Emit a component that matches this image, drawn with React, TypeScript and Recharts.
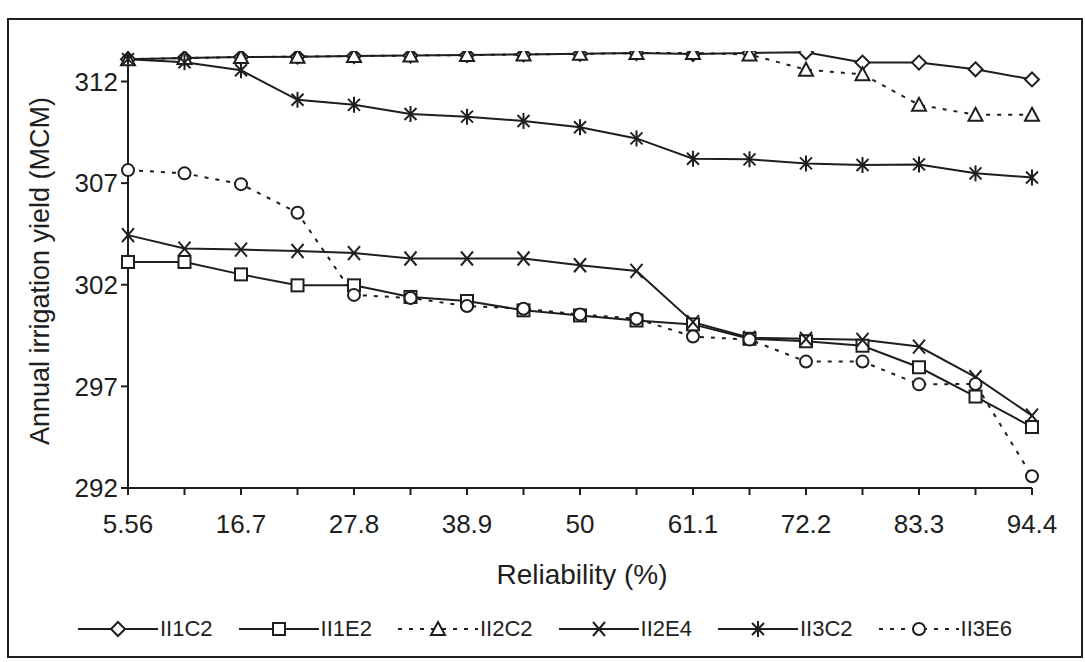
import { LineChart, Line, XAxis, YAxis } from 'recharts';

const reliability = ['5.56', '11.1', '16.7', '22.2', '27.8', '33.3', '38.9', '44.4', '50', '55.6', '61.1', '66.7', '72.2', '77.8', '83.3', '88.9', '94.4'];

const ii1c2 = [313.1, 313.15, 313.2, 313.22, 313.25, 313.28, 313.3, 313.33, 313.36, 313.4, 313.35, 313.4, 313.44, 312.93, 312.93, 312.6, 312.1];
const ii1e2 = [303.12, 303.12, 302.51, 301.97, 301.97, 301.4, 301.2, 300.74, 300.49, 300.24, 300.05, 299.34, 299.22, 299.0, 297.94, 296.5, 295.0];
const ii2c2 = [313.1, 313.15, 313.2, 313.22, 313.25, 313.28, 313.3, 313.33, 313.36, 313.4, 313.4, 313.33, 312.58, 312.35, 310.85, 310.36, 310.36];
const ii2e4 = [304.44, 303.78, 303.73, 303.66, 303.56, 303.29, 303.29, 303.29, 302.96, 302.68, 300.16, 299.39, 299.34, 299.29, 298.96, 297.45, 295.56];
const ii3c2 = [313.1, 312.95, 312.55, 311.1, 310.85, 310.4, 310.27, 310.06, 309.75, 309.2, 308.2, 308.17, 307.97, 307.89, 307.92, 307.48, 307.28];
const ii3e6 = [307.64, 307.48, 306.95, 305.54, 301.5, 301.35, 300.95, 300.82, 300.54, 300.33, 299.45, 299.3, 298.22, 298.22, 297.1, 297.12, 292.58];

const yTicks = [292, 297, 302, 307, 312];

type Kind = 'diamond' | 'square' | 'triangle' | 'cross' | 'star' | 'circle';

const series: { key: string; name: string; values: number[]; kind: Kind; dotted: boolean }[] = [
  { key: 'ii1c2', name: 'II1C2', values: ii1c2, kind: 'diamond', dotted: false },
  { key: 'ii1e2', name: 'II1E2', values: ii1e2, kind: 'square', dotted: false },
  { key: 'ii2c2', name: 'II2C2', values: ii2c2, kind: 'triangle', dotted: true },
  { key: 'ii2e4', name: 'II2E4', values: ii2e4, kind: 'cross', dotted: false },
  { key: 'ii3c2', name: 'II3C2', values: ii3c2, kind: 'star', dotted: false },
  { key: 'ii3e6', name: 'II3E6', values: ii3e6, kind: 'circle', dotted: true },
];

const data = reliability.map((r, i) => {
  const row: Record<string, string | number> = { r };
  series.forEach(s => { row[s.key] = s.values[i]; });
  return row;
});

const INK = '#1e1e1e';
const FONT = '"Liberation Sans", Arial, sans-serif';
const DOTS = '4 7';

function Marker({ kind, cx, cy }: { kind: Kind; cx: number; cy: number }) {
  const p = { stroke: INK, strokeWidth: 2, fill: '#fff' };
  switch (kind) {
    case 'diamond':
      return <polygon {...p} points={`${cx},${cy - 7} ${cx + 7},${cy} ${cx},${cy + 7} ${cx - 7},${cy}`} />;
    case 'square':
      return <rect {...p} x={cx - 6} y={cy - 6} width={12} height={12} />;
    case 'triangle':
      return <polygon {...p} points={`${cx},${cy - 7} ${cx + 7},${cy + 6} ${cx - 7},${cy + 6}`} />;
    case 'circle':
      return <circle {...p} cx={cx} cy={cy} r={6} />;
    case 'cross':
      return (
        <g stroke={INK} strokeWidth={2}>
          <line x1={cx - 6} y1={cy - 7} x2={cx + 6} y2={cy + 7} />
          <line x1={cx + 6} y1={cy - 7} x2={cx - 6} y2={cy + 7} />
        </g>
      );
    default:
      return (
        <g stroke={INK} strokeWidth={2}>
          <line x1={cx - 6} y1={cy - 6} x2={cx + 6} y2={cy + 6} />
          <line x1={cx + 6} y1={cy - 6} x2={cx - 6} y2={cy + 6} />
          <line x1={cx} y1={cy - 8} x2={cx} y2={cy + 8} />
        </g>
      );
  }
}

function LegendItem({ name, kind, dotted }: { name: string; kind: Kind; dotted: boolean }) {
  return (
    <div style={{ display: 'flex', alignItems: 'center' }}>
      <svg width={82} height={20}>
        <line x1={0} y1={10} x2={80} y2={10} stroke={INK} strokeWidth={2} strokeDasharray={dotted ? DOTS : undefined} />
        <Marker kind={kind} cx={40} cy={10} />
      </svg>
      <span style={{ fontSize: 22, color: INK }}>{name}</span>
    </div>
  );
}

export default function App() {
  return (
    <div style={{ position: 'absolute', left: 0, top: 0, width: 1085, height: 662, background: '#fff', fontFamily: FONT }}>
      <div style={{ position: 'absolute', left: 7, top: 18, width: 1072, height: 636, border: `2px solid ${INK}` }} />
      <LineChart width={1085} height={662} data={data} margin={{ top: 51, right: 53, left: 68, bottom: 114 }}>
        <XAxis
          dataKey="r"
          height={60}
          interval={0}
          tickSize={7}
          tickMargin={20}
          axisLine={{ stroke: INK, strokeWidth: 2 }}
          tickLine={{ stroke: INK, strokeWidth: 2 }}
          tick={{ fontSize: 26, fill: INK, fontFamily: FONT }}
          tickFormatter={(v, i) => (i % 2 === 0 ? v : '')}
        />
        <YAxis
          width={60}
          domain={[292, 313.5]}
          ticks={yTicks}
          allowDataOverflow
          tickSize={7}
          tickMargin={3}
          axisLine={{ stroke: INK, strokeWidth: 2 }}
          tickLine={{ stroke: INK, strokeWidth: 2 }}
          tick={{ fontSize: 26, fill: INK, fontFamily: FONT }}
        />
        {series.map(s => (
          <Line
            key={s.key}
            dataKey={s.key}
            name={s.name}
            type="linear"
            stroke={INK}
            strokeWidth={2}
            strokeDasharray={s.dotted ? DOTS : undefined}
            isAnimationActive={false}
            dot={(props: any) => <Marker key={`${s.key}-${props.index}`} kind={s.kind} cx={props.cx} cy={props.cy} />}
            activeDot={false}
          />
        ))}
      </LineChart>
      <div
        style={{
          position: 'absolute', left: 40, top: 271, transform: 'translate(-50%, -50%) rotate(-90deg)',
          fontSize: 27, color: INK, whiteSpace: 'nowrap',
        }}
      >
        Annual irrigation yield (MCM)
      </div>
      <div
        style={{
          position: 'absolute', left: 582, top: 575, transform: 'translate(-50%, -50%)',
          fontSize: 28, color: INK, whiteSpace: 'nowrap',
        }}
      >
        Reliability (%)
      </div>
      <div style={{ position: 'absolute', left: 78, top: 616, display: 'flex', gap: 26 }}>
        {series.map(s => <LegendItem key={s.key} name={s.name} kind={s.kind} dotted={s.dotted} />)}
      </div>
    </div>
  );
}
